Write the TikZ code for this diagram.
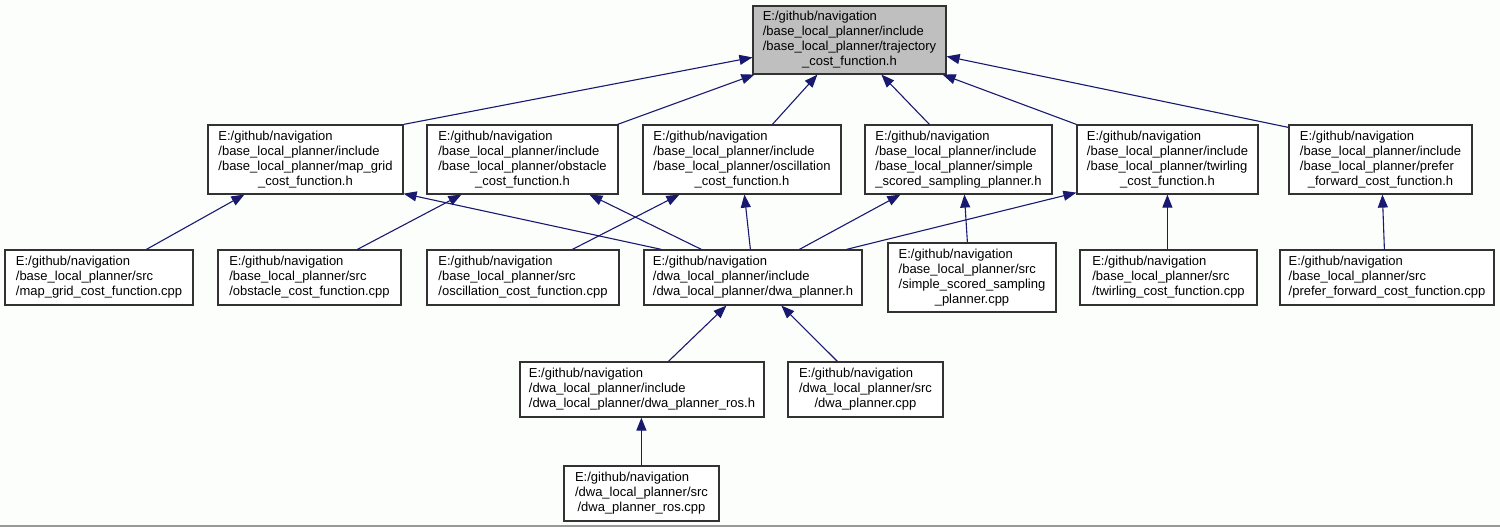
\documentclass[tikz,border=0pt]{standalone}
\usepackage{fontspec}
\setmainfont{Liberation Sans}
\usetikzlibrary{arrows.meta,calc}
\definecolor{edgeblue}{RGB}{25,25,112}
\definecolor{boxgray}{RGB}{191,191,191}
\definecolor{bordergray}{RGB}{50,50,50}
\definecolor{bgcol}{RGB}{252,254,252}
\newcommand\lbl[2]{\begin{tabular}{@{}l@{}}#1\\\multicolumn{1}{@{}c@{}}{#2}\end{tabular}}
\begin{document}
\begin{tikzpicture}[x=1pt,y=-1pt,
  box/.style={draw=bordergray, line width=1.2pt, fill=white, inner sep=0pt,
    font=\fontsize{13}{15}\selectfont, text=black},
  edge/.style={draw=edgeblue, line width=1.1pt, -{Triangle[length=13pt,width=10pt]}}]
\fill[bgcol] (0,0) rectangle (1500,527);
\useasboundingbox (0,0) rectangle (1500,527);
\draw[black!40, line width=1.5pt] (0,526) -- (1500,526);

% top
\node[box, fill=boxgray, minimum width=193pt, minimum height=68pt] (top) at (849.5,40)
  {\lbl{E:/github/navigation\\/base\_local\_planner/include\\/base\_local\_planner/trajectory}{\_cost\_function.h}};
% row 2
\node[box, minimum width=195pt, minimum height=69pt] (mgh) at (305.5,159.5)
  {\lbl{E:/github/navigation\\/base\_local\_planner/include\\/base\_local\_planner/map\_grid}{\_cost\_function.h}};
\node[box, minimum width=191pt, minimum height=69pt] (obh) at (522.5,159.5)
  {\lbl{E:/github/navigation\\/base\_local\_planner/include\\/base\_local\_planner/obstacle}{\_cost\_function.h}};
\node[box, minimum width=198pt, minimum height=69pt] (osh) at (742,159.5)
  {\lbl{E:/github/navigation\\/base\_local\_planner/include\\/base\_local\_planner/oscillation}{\_cost\_function.h}};
\node[box, minimum width=187pt, minimum height=69pt] (ssh) at (958.5,159.5)
  {\lbl{E:/github/navigation\\/base\_local\_planner/include\\/base\_local\_planner/simple}{\_scored\_sampling\_planner.h}};
\node[box, minimum width=181pt, minimum height=69pt] (twh) at (1167.5,159.5)
  {\lbl{E:/github/navigation\\/base\_local\_planner/include\\/base\_local\_planner/twirling}{\_cost\_function.h}};
\node[box, minimum width=183pt, minimum height=69pt] (pfh) at (1380.5,159.5)
  {\lbl{E:/github/navigation\\/base\_local\_planner/include\\/base\_local\_planner/prefer}{\_forward\_cost\_function.h}};
% row 3
\node[box, minimum width=188pt, minimum height=55pt] (mgc) at (99,277.5)
  {\lbl{E:/github/navigation\\/base\_local\_planner/src}{/map\_grid\_cost\_function.cpp}};
\node[box, minimum width=183pt, minimum height=55pt] (obc) at (309.5,277.5)
  {\lbl{E:/github/navigation\\/base\_local\_planner/src}{/obstacle\_cost\_function.cpp}};
\node[box, minimum width=192pt, minimum height=55pt] (osc) at (523,277.5)
  {\lbl{E:/github/navigation\\/base\_local\_planner/src}{/oscillation\_cost\_function.cpp}};
\node[box, minimum width=218pt, minimum height=55pt] (dwah) at (753,277.5)
  {\lbl{E:/github/navigation\\/dwa\_local\_planner/include}{/dwa\_local\_planner/dwa\_planner.h}};
\node[box, minimum width=168pt, minimum height=69pt] (ssc) at (972,277.5)
  {\lbl{E:/github/navigation\\/base\_local\_planner/src\\/simple\_scored\_sampling}{\_planner.cpp}};
\node[box, minimum width=177pt, minimum height=55pt] (twc) at (1168.5,277.5)
  {\lbl{E:/github/navigation\\/base\_local\_planner/src}{/twirling\_cost\_function.cpp}};
\node[box, minimum width=214pt, minimum height=55pt] (pfc) at (1387,277.5)
  {\lbl{E:/github/navigation\\/base\_local\_planner/src}{/prefer\_forward\_cost\_function.cpp}};
% row 4
\node[box, minimum width=244pt, minimum height=55pt] (drh) at (642,389.5)
  {\lbl{E:/github/navigation\\/dwa\_local\_planner/include}{/dwa\_local\_planner/dwa\_planner\_ros.h}};
\node[box, minimum width=155pt, minimum height=55pt] (dpc) at (865.5,389.5)
  {\lbl{E:/github/navigation\\/dwa\_local\_planner/src}{/dwa\_planner.cpp}};
% row 5
\node[box, minimum width=155pt, minimum height=55pt] (drc) at (641.5,493.5)
  {\lbl{E:/github/navigation\\/dwa\_local\_planner/src}{/dwa\_planner\_ros.cpp}};

% edges to top
\draw[edge] (mgh.north east) -- ($(top.north west)+(0,52)$);
\draw[edge] ($(obh.north east)+(-1,0)$) -- ($(top.south west)+(2,0)$);
\draw[edge] ($(osh.north west)+(130,0)$) -- ($(top.south west)+(65,0)$);
\draw[edge] ($(ssh.north west)+(65,0)$) -- ($(top.south west)+(129,0)$);
\draw[edge] (twh.north west) -- ($(top.south east)+(-4,0)$);
\draw[edge] ($(pfh.north west)+(0,3)$) -- ($(top.north east)+(0,51)$);
% edges row 3 -> row 2
\draw[edge] ($(mgc.north west)+(142,0)$) -- ($(mgh.south west)+(37,0)$);
\draw[edge] ($(dwah.north west)+(18,0)$) -- ($(mgh.south east)+(0,-1)$);
\draw[edge] ($(obc.north west)+(140,0)$) -- ($(obh.south west)+(35,0)$);
\draw[edge] ($(dwah.north west)+(58,0)$) -- ($(obh.south west)+(163,0)$);
\draw[edge] ($(osc.north west)+(146,0)$) -- ($(osh.south west)+(37,0)$);
\draw[edge] ($(dwah.north west)+(107,0)$) -- ($(osh.south west)+(102,0)$);
\draw[edge] ($(dwah.north west)+(156,0)$) -- ($(ssh.south west)+(36,0)$);
\draw[edge] ($(ssc.north west)+(80,0)$) -- ($(ssh.south west)+(100,0)$);
\draw[edge] ($(dwah.north west)+(203,0)$) -- ($(twh.south west)+(0,-2)$);
\draw[edge] ($(twc.north west)+(88,0)$) -- ($(twh.south west)+(91,0)$);
\draw[edge] ($(pfc.north west)+(105,0)$) -- ($(pfh.south west)+(94,0)$);
% lower edges
\draw[edge] ($(drh.north west)+(149,0)$) -- ($(dwah.south west)+(83,0)$);
\draw[edge] ($(dpc.north west)+(50,0)$) -- ($(dwah.south west)+(138,0)$);
\draw[edge] ($(drc.north west)+(78,0)$) -- ($(drh.south west)+(122,0)$);
\end{tikzpicture}
\end{document}
